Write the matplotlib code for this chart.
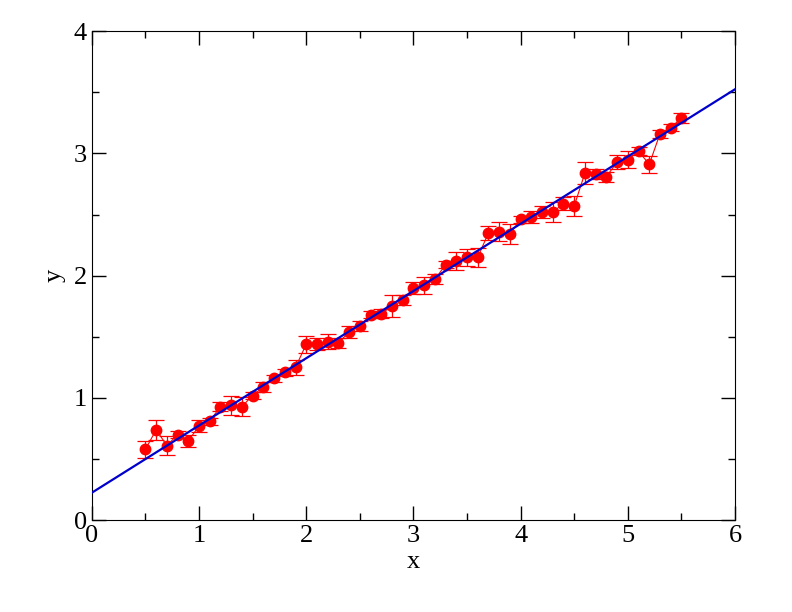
import matplotlib
matplotlib.use("Agg")
import matplotlib.pyplot as plt
from matplotlib.ticker import MultipleLocator

# datos
x = [0.5, 0.6, 0.7, 0.8, 0.9, 1.0, 1.1, 1.2, 1.3, 1.4,
     1.5, 1.6, 1.7, 1.8, 1.9, 2.0, 2.1, 2.2, 2.3, 2.4,
     2.5, 2.6, 2.7, 2.8, 2.9, 3.0, 3.1, 3.2, 3.3, 3.4,
     3.5, 3.6, 3.7, 3.8, 3.9, 4.0, 4.1, 4.2, 4.3, 4.4,
     4.5, 4.6, 4.7, 4.8, 4.9, 5.0, 5.1, 5.2, 5.3, 5.4, 5.5]
y = [0.58, 0.74, 0.61, 0.70, 0.65, 0.77, 0.81, 0.93, 0.94, 0.93,
     1.02, 1.09, 1.16, 1.21, 1.25, 1.44, 1.44, 1.46, 1.45, 1.54,
     1.59, 1.68, 1.69, 1.75, 1.80, 1.90, 1.92, 1.97, 2.09, 2.12,
     2.15, 2.15, 2.35, 2.36, 2.34, 2.46, 2.48, 2.52, 2.52, 2.59,
     2.57, 2.84, 2.83, 2.81, 2.93, 2.95, 3.02, 2.91, 3.16, 3.21, 3.29]
yerr = [0.07, 0.08, 0.08, 0.03, 0.05, 0.05, 0.03, 0.04, 0.08, 0.08,
        0.03, 0.04, 0.03, 0.03, 0.06, 0.07, 0.05, 0.06, 0.04, 0.05,
        0.04, 0.03, 0.04, 0.09, 0.04, 0.05, 0.07, 0.04, 0.03, 0.07,
        0.07, 0.08, 0.06, 0.08, 0.08, 0.03, 0.05, 0.05, 0.08, 0.05,
        0.08, 0.09, 0.04, 0.04, 0.06, 0.07, 0.03, 0.07, 0.03, 0.03, 0.04]

# recta de ajuste
fit_x = [0, 6]
fit_a = 0.225
fit_b = 0.55
fit_y = [fit_a + fit_b * v for v in fit_x]

plt.rcParams["font.family"] = ["Liberation Serif", "DejaVu Serif"]

fig = plt.figure(figsize=(7.92, 6.12), dpi=100)
ax = fig.add_axes([0.116, 0.150, 0.812, 0.799])

ax.errorbar(x, y, yerr=yerr, fmt="o-", color="red", ms=7.5, lw=0.8,
            elinewidth=0.9, capsize=6, capthick=0.9, zorder=2)
ax.plot(fit_x, fit_y, color="#0000cc", lw=1.6, zorder=3)

ax.set_xlim(0, 6)
ax.set_ylim(0, 4)
ax.xaxis.set_major_locator(MultipleLocator(1))
ax.xaxis.set_minor_locator(MultipleLocator(0.5))
ax.yaxis.set_major_locator(MultipleLocator(1))
ax.yaxis.set_minor_locator(MultipleLocator(0.5))
ax.tick_params(which="both", direction="in", top=True, right=True,
               labelsize=19, width=1)
ax.tick_params(which="major", length=10)
ax.tick_params(which="minor", length=5)

ax.set_xlabel("x", fontsize=19, labelpad=3)
ax.set_ylabel("y", fontsize=19, labelpad=6)

fig.savefig("out.png", dpi=100, facecolor="white")
plt.close()
